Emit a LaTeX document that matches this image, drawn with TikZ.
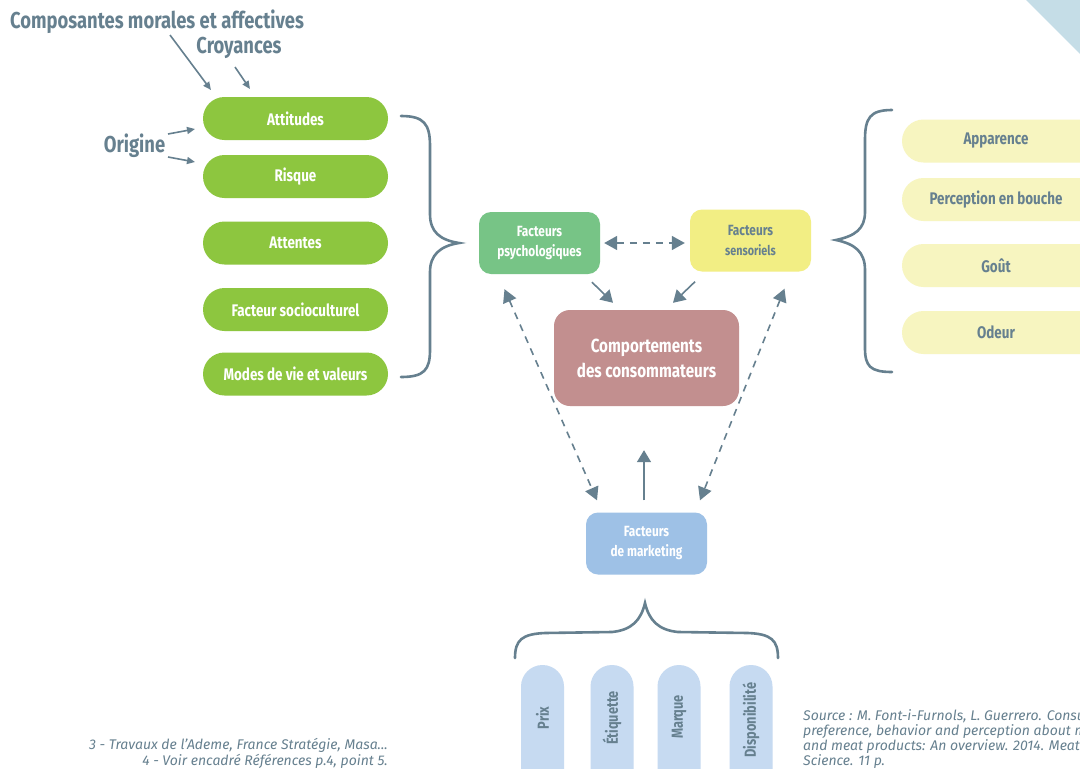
\documentclass[tikz,border=0pt]{standalone}
\usepackage{fontspec}
\setmainfont{Fira Sans}[FakeStretch=0.8]
\newfontfamily\notefont{Fira Sans}
\usetikzlibrary{arrows.meta}
\definecolor{tgray}{HTML}{66808F}
\definecolor{pgreen}{HTML}{8DC63F}
\definecolor{psy}{HTML}{77C486}
\definecolor{sens}{HTML}{F2EE84}
\definecolor{comp}{HTML}{C28F8F}
\definecolor{mkt}{HTML}{9EC1E6}
\definecolor{pyel}{HTML}{F7F5C0}
\definecolor{pblue}{HTML}{C6DAF1}
\definecolor{tri}{HTML}{C5DDE7}
\tikzset{
  gpill/.style={rectangle, rounded corners=21.5pt, minimum width=185pt, minimum height=43pt, fill=pgreen, text=white, font=\bfseries\fontsize{16.8}{19}\selectfont, inner sep=0pt},
  ypill/.style={rectangle, rounded corners=21.5pt, minimum width=200pt, minimum height=43pt, fill=pyel, text=tgray, font=\bfseries\fontsize{16.8}{19}\selectfont, inner sep=0pt},
  vpill/.style={rectangle, rounded corners=21.5pt, minimum width=43pt, minimum height=140pt, fill=pblue, inner sep=0pt},
  vtext/.style={rotate=90, text=tgray, font=\bfseries\fontsize{16}{18}\selectfont, inner sep=0pt},
  fbox/.style={rectangle, rounded corners=12pt, minimum width=121pt, minimum height=62pt, text=white, align=center, font=\bfseries\fontsize{14.8}{20}\selectfont, inner sep=0pt},
  lab/.style={text=tgray, font=\bfseries\fontsize{23}{26}\selectfont, inner sep=0pt},
  thin/.style={draw=tgray, line width=1.6pt, -{Triangle[length=8pt,width=7pt]}},
  dsh/.style={draw=tgray, line width=1.6pt, dash pattern=on 7pt off 6pt, {Triangle[length=13pt,width=14pt]}-{Triangle[length=13pt,width=14pt]}},
  sarr/.style={draw=tgray, line width=1.6pt, -{Triangle[length=12pt,width=14pt]}},
  brace/.style={draw=tgray, line width=2.6pt, line cap=round},
  note/.style={text=tgray, font=\notefont\itshape\fontsize{14}{16}\selectfont, inner sep=0pt}
}
\begin{document}
\begin{tikzpicture}[x=1pt,y=-1pt]
\useasboundingbox[fill=white] (0,0) rectangle (1080,769);
\fill[tri] (1026,0) -- (1080,0) -- (1080,54) -- cycle;

% left pills
\node[gpill] (att) at (295.5,118.5) {Attitudes};
\node[gpill] (ris) at (295.5,176.5) {Risque};
\node[gpill] (aten) at (295.5,243) {Attentes};
\node[gpill] (soc) at (295.5,309.5) {Facteur socioculturel};
\node[gpill] (mod) at (295.5,374) {Modes de vie et valeurs};

% labels
\node[lab, anchor=west] (compo) at (10,22) {Composantes morales et affectives};
\node[lab] (croy) at (239,48) {Croyances};
\node[lab] (orig) at (134.5,146) {Origine};
\coordinate (c1) at (170,35);
\coordinate (c2) at (235,67);
\coordinate (o1) at (168,134);
\coordinate (o2) at (168,157);
\draw[thin] (c1) -- (211,90);
\draw[thin] (c2) -- (250,89);
\draw[thin] (o1) -- (195,129);
\draw[thin] (o2) -- (195,162);

% right pills
\node[ypill] (app) at (1002,141) {\hspace*{-12pt}Apparence};
\node[ypill] (perc) at (1002,199.5) {\hspace*{-12pt}Perception en bouche};
\node[ypill] (gout) at (1002,265.5) {\hspace*{-12pt}Goût};
\node[ypill] (od) at (1002,332.5) {\hspace*{-12pt}Odeur};

% braces
\draw[brace] (401,116) .. controls (424,116) and (430,124) .. (430,146) -- (430,214) .. controls (430,232) and (440,240) .. (459,243) .. controls (440,246) and (430,255) .. (430,272) -- (430,350) .. controls (430,370) and (424,377) .. (401,377);
\draw[brace] (892,110) .. controls (870,110) and (865,118) .. (865,140) -- (865,212) .. controls (865,229) and (855,236) .. (836,240) .. controls (855,244) and (865,252) .. (865,270) -- (865,348) .. controls (865,366) and (870,372) .. (892,372);
\draw[brace] (515,658) .. controls (515,640) and (522,634) .. (545,633) -- (612,632) .. controls (632,630) and (641,620) .. (645,603) .. controls (649,620) and (658,630) .. (678,632) -- (748,633) .. controls (771,634) and (778,640) .. (778,658);

% central boxes
\node[fbox, fill=psy] (psy) at (539.5,243) {Facteurs\\psychologiques};
\node[fbox, fill=sens, text=tgray] (sen) at (750.5,240.5) {Facteurs\\{\fontsize{13.5}{16}\selectfont sensoriels}};
\node[rectangle, rounded corners=16pt, minimum width=185pt, minimum height=96pt, fill=comp, text=white, align=center, font=\bfseries\fontsize{19}{25}\selectfont, inner sep=0pt] (comp) at (646.5,358) {Comportements\\des consommateurs};
\node[fbox, fill=mkt] (mkt) at (646.5,543.5) {Facteurs\\de marketing};

% arrows
\draw[dsh] (psy.east) ++(4,0) coordinate (pe) -- ([xshift=-5pt]sen.west |- pe);
\draw[sarr] ([xshift=52.5pt,yshift=-8pt]psy.south) -- ([xshift=-33.5pt,yshift=7pt]comp.north);
\draw[sarr] ([xshift=-55.5pt,yshift=-10pt]sen.south) -- ([xshift=26.5pt,yshift=7pt]comp.north);
\draw[dsh] ([xshift=-35pt,yshift=-15pt]psy.south) -- ([xshift=-49.5pt,yshift=12pt]mkt.north);
\draw[dsh] ([xshift=34pt,yshift=-17pt]sen.south) -- ([xshift=53.5pt,yshift=12pt]mkt.north);
\draw[sarr] ([xshift=-2.5pt,yshift=12pt]mkt.north) -- ([xshift=-2.5pt,yshift=-44pt]comp.south);

% bottom pills
\node[vpill] (prix) at (542.5,735) {};
\node[vpill] (etiq) at (612,735) {};
\node[vpill] (marq) at (679,735) {};
\node[vpill] (disp) at (751,735) {};
\node[vtext] (tprix) at (prix.center |- 0,718) {Prix};
\node[vtext] (tetiq) at (etiq.center |- 0,718) {Étiquette};
\node[vtext] (tmarq) at (marq.center |- 0,717) {Marque};
\node[vtext] (tdisp) at (disp.center |- 0,720) {Disponibilité};

% notes
\node[note, anchor=east] (n3) at (388,745) {3 - Travaux de l’Ademe, France Stratégie, Masa...};
\node[note, anchor=east] (n4) at (388,761) {4 - Voir encadré Références p.4, point 5.};
\node[note, anchor=north west, align=left, font=\notefont\itshape\fontsize{14}{15}\selectfont] (src) at (803,709) {Source : M. Font-i-Furnols, L. Guerrero. Consumer\\preference, behavior and perception about meat\\and meat products: An overview. 2014. Meat\\Science. 11 p.};
\end{tikzpicture}
\end{document}
